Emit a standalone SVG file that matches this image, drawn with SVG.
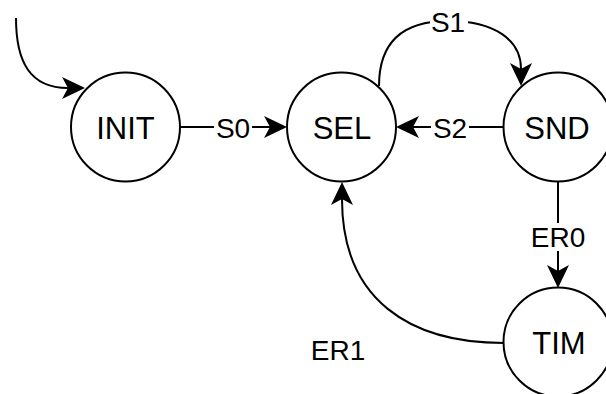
<svg xmlns="http://www.w3.org/2000/svg" width="606" height="394" viewBox="0 0 606 394">
  <style>
    .state circle { fill: #ffffff; stroke: #000000; stroke-width: 2; }
    .state text { font-family: "Liberation Sans", Arial, sans-serif; font-size: 31px; fill: #000000; text-anchor: middle; }
    .edge { fill: none; stroke: #000000; stroke-width: 2; marker-end: url(#arrow); }
    .label rect { fill: #ffffff; }
    .label text { font-family: "Liberation Sans", Arial, sans-serif; font-size: 28px; fill: #000000; text-anchor: middle; }
  </style>
  <defs>
    <!-- classic notched arrowhead; path ends at the notch, tip sits 17px ahead -->
    <marker id="arrow" markerUnits="userSpaceOnUse" viewBox="-7 -12 26 24" refX="0" refY="0" markerWidth="26" markerHeight="24" orient="auto">
      <path d="M17,0 L-6,-11 L0,0 L-6,11 Z" fill="#000000"/>
    </marker>
  </defs>

  <rect width="606" height="394" fill="#ffffff"/>

  <g id="connectors">
    <!-- initial transition -->
    <path class="edge" d="M16,18 C16,62 30,88 68,88"/>
    <!-- INIT -> SEL -->
    <path class="edge" d="M180,127 L270,127"/>
    <!-- SEL -> SND -->
    <path class="edge" d="M379,86 C379,45 400,21 448,21 C495,21 521,40 521,69"/>
    <!-- SND -> SEL -->
    <path class="edge" d="M503,127 L413,127"/>
    <!-- SND -> TIM -->
    <path class="edge" d="M558,181 L558,271"/>
    <!-- TIM -> SEL -->
    <path class="edge" d="M504,343 C410,343 342,300 342,199"/>

    <g class="label"><rect x="214" y="114" width="38" height="28"/><text x="233" y="138">S0</text></g>
    <g class="label"><rect x="430" y="8" width="38" height="28"/><text x="448" y="31.5">S1</text></g>
    <g class="label"><rect x="431" y="114" width="38" height="28"/><text x="450" y="138">S2</text></g>
    <g class="label"><rect x="530" y="223" width="56" height="28"/><text x="558" y="247">ER0</text></g>
    <g class="label"><text x="338" y="360">ER1</text></g>
  </g>

  <g id="INIT" class="state">
    <circle cx="125.5" cy="127" r="54.5"/>
    <text x="125.5" y="138.5">INIT</text>
  </g>
  <g id="SEL" class="state">
    <circle cx="341.5" cy="127" r="54.5"/>
    <text x="342" y="138.5">SEL</text>
  </g>
  <g id="SND" class="state">
    <circle cx="558" cy="127" r="54.5"/>
    <text x="557" y="138.5">SND</text>
  </g>
  <g id="TIM" class="state">
    <circle cx="558" cy="342" r="54.5"/>
    <text x="559" y="354">TIM</text>
  </g>
</svg>
